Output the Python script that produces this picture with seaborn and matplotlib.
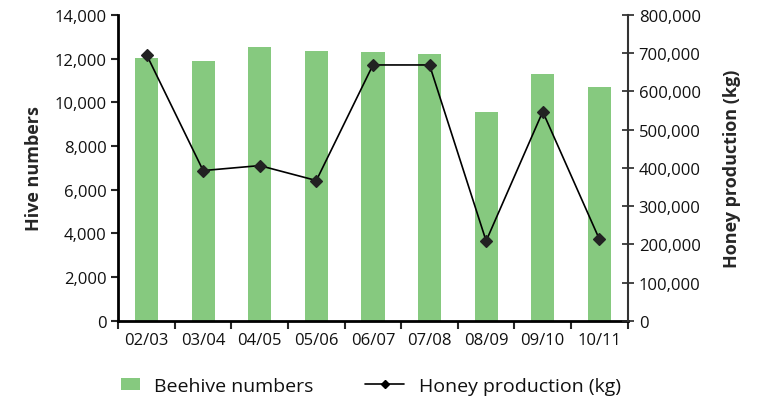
import pandas as pd
import matplotlib.pyplot as plt
import seaborn as sns
from matplotlib.ticker import FuncFormatter, FixedLocator
from matplotlib.patches import Patch
from matplotlib.lines import Line2D

# dados
temporadas = ["02/03", "03/04", "04/05", "05/06", "06/07", "07/08", "08/09", "09/10", "10/11"]
colmeias = [12030, 11900, 12530, 12350, 12310, 12210, 9560, 11300, 10700]
mel_kg = [696000, 393000, 406000, 367000, 669000, 669000, 209000, 547000, 214000]

df = pd.DataFrame({"season": temporadas, "hives": colmeias, "honey": mel_kg})

sns.set_style("white")
plt.rcParams["font.family"] = ["Open Sans", "DejaVu Sans"]
plt.rcParams["text.color"] = "#111111"

verde = "#86c97f"
milhar = FuncFormatter(lambda v, p: f"{v:,.0f}")

fig = plt.figure(figsize=(7.58, 4.06), dpi=100)
ax = fig.add_axes([0.156, 0.207, 0.672, 0.754])

sns.barplot(data=df, x="season", y="hives", color=verde, width=0.41,
            saturation=1, linewidth=0, ax=ax)
ax.set_ylim(0, 14000)
ax.set_xlim(-0.5, len(temporadas) - 0.5)
ax.yaxis.set_major_formatter(milhar)
ax.set_ylabel("Hive numbers", fontsize=13, fontweight="bold", labelpad=8)
ax.set_xlabel("")

ax2 = ax.twinx()
sns.pointplot(data=df, x="season", y="honey", color="black", markers="D",
              errorbar=None, markersize=6, linewidth=1.2, ax=ax2,
              markerfacecolor="#222222", markeredgecolor="#222222")
ax2.set_ylim(0, 800000)
ax2.set_xlim(-0.5, len(temporadas) - 0.5)
ax2.yaxis.set_major_formatter(milhar)
ax2.set_ylabel("Honey production (kg)", fontsize=13, fontweight="bold", labelpad=16)
ax2.set_xlabel("")

# eixos
ax.spines["top"].set_visible(False)
ax2.spines["top"].set_visible(False)
ax.spines["right"].set_visible(False)
ax2.spines["left"].set_visible(False)
ax2.spines["bottom"].set_visible(False)
ax.spines["left"].set_linewidth(2)
ax.spines["left"].set_color("black")
ax.spines["bottom"].set_linewidth(2)
ax.spines["bottom"].set_color("black")
ax2.spines["right"].set_linewidth(1.5)
ax2.spines["right"].set_color("#333333")

ax.tick_params(axis="y", direction="out", length=5, width=1.5, labelsize=12, left=True,
               labelcolor="#111111")
ax2.tick_params(axis="y", direction="inout", length=9, width=1.2, labelsize=12, right=True,
                labelcolor="#111111")
ax.tick_params(axis="x", which="major", length=0, labelsize=12, pad=8, labelcolor="#111111")
ax.xaxis.set_minor_locator(FixedLocator([i - 0.5 for i in range(len(temporadas) + 1)]))
ax.tick_params(axis="x", which="minor", direction="out", length=6, width=1.5, bottom=True)

# legenda em duas partes para controlar o tamanho de cada símbolo
leg1 = fig.legend([Patch(facecolor=verde, edgecolor="none")], ["Beehive numbers"],
                  loc="lower left", bbox_to_anchor=(0.137, -0.019), frameon=False,
                  fontsize=14, handlelength=0.95, handleheight=0.55, handletextpad=0.75)
leg2 = fig.legend([Line2D([], [], color="black", marker="D", markersize=4, linewidth=1.2)],
                  ["Honey production (kg)"], loc="lower left",
                  bbox_to_anchor=(0.459, -0.019), frameon=False, fontsize=14,
                  handlelength=2.0, handletextpad=0.75)

fig.savefig("out.png", dpi=100)
